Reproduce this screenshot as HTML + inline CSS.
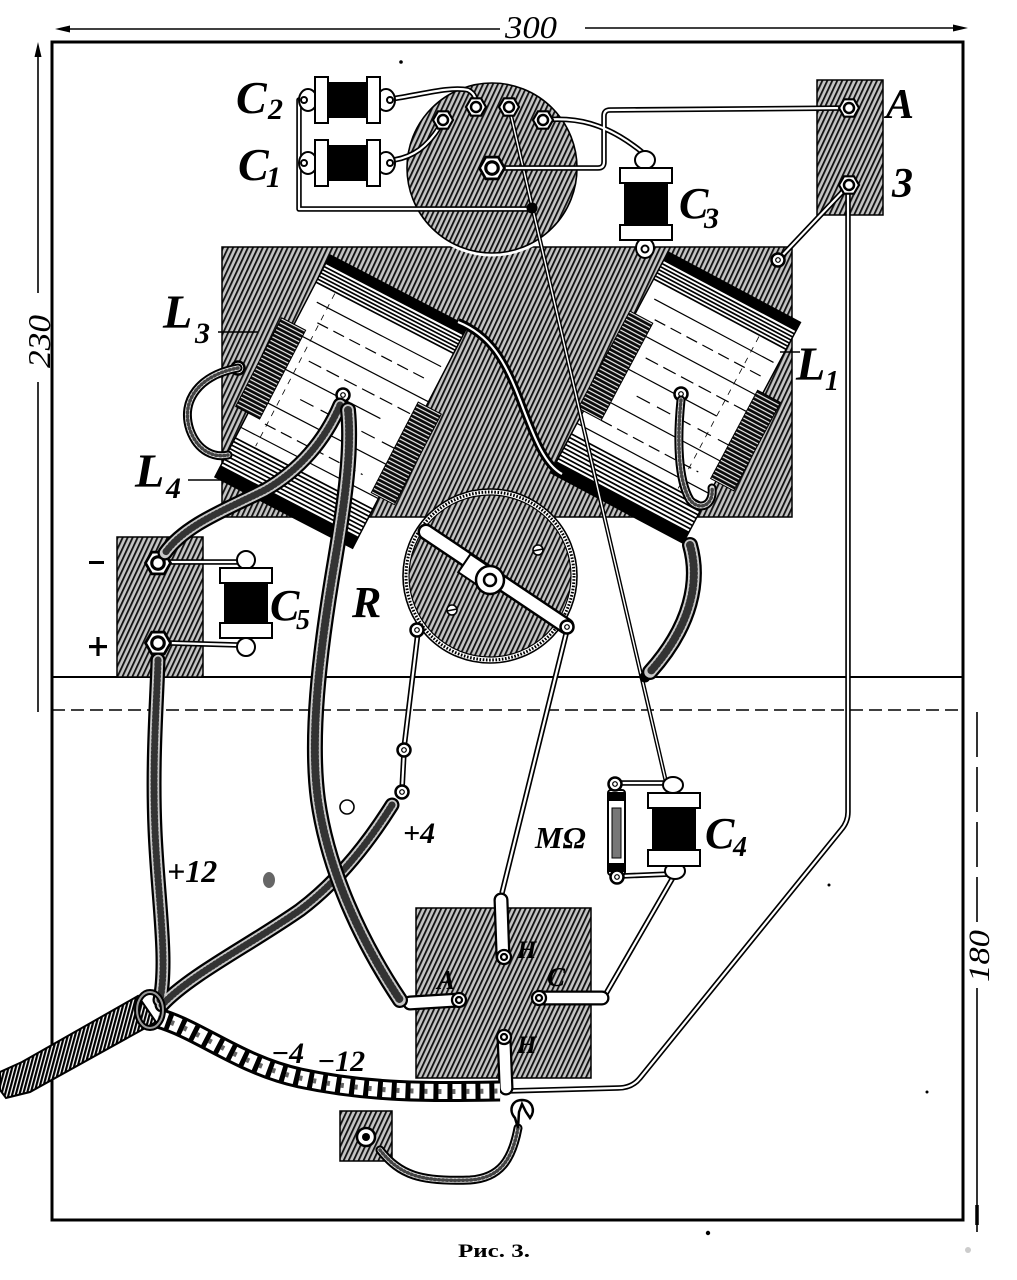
<!DOCTYPE html>
<html><head><meta charset="utf-8">
<style>
html,body{margin:0;padding:0;background:#fff;}
svg{display:block;}
text{font-family:"Liberation Serif","DejaVu Serif",serif;font-style:italic;font-weight:bold;fill:#000;}
</style></head><body>
<svg width="1017" height="1280" viewBox="0 0 1017 1280" xmlns="http://www.w3.org/2000/svg">
<defs>
 <pattern id="h" patternUnits="userSpaceOnUse" width="4.5" height="4.5" patternTransform="rotate(25)">
  <rect width="4.5" height="4.5" fill="#c4c4c4"/>
  <rect x="0" y="0" width="1.8" height="4.5" fill="#111"/>
 </pattern>
 <pattern id="st" patternUnits="userSpaceOnUse" width="20" height="4">
  <rect width="20" height="4" fill="#0a0a0a"/>
  <rect y="2.6" width="20" height="1.1" fill="#fff"/>
 </pattern>
 <pattern id="vh" patternUnits="userSpaceOnUse" width="3.5" height="4" patternTransform="rotate(15)">
  <rect width="3.5" height="4" fill="#fff"/>
  <rect width="2.2" height="4" fill="#000"/>
 </pattern>
 <g id="nut"><polygon points="10,0 5,8.7 -5,8.7 -10,0 -5,-8.7 5,-8.7" fill="#fff" stroke="#000" stroke-width="2.2"/><circle r="5" fill="#fff" stroke="#000" stroke-width="2.5"/></g>
 <g id="ring"><circle r="6.5" fill="#fff" stroke="#000" stroke-width="2.5"/><circle r="2.3" fill="#fff" stroke="#000" stroke-width="1.2"/></g>

 <path id="w1" d="M303,100 L299,100 L299,209 L531,209"/>
 <path id="w2" d="M391,99 C420,95 450,86 468,90 C476,94 476,100 476,107"/>
 <path id="w3" d="M394,160 C412,157 428,148 443,121"/>
 <path id="w4" d="M492,168 L598,168 Q604,168 604,162 L604,116 Q604,110 610,110 L848,108"/>
 <path id="w5" d="M543,120 C575,117 605,122 642,152"/>
 <path id="w6" d="M848,186 L778,260"/>
 <path id="w7" d="M848,190 L848,812 Q848,822 841,830 L640,1078 Q632,1088 618,1088 L506,1091"/>
 <path id="w9" d="M418,632 L404,748"/>
 <path id="w10" d="M404,752 L402,790"/>
 <path id="w11" d="M567,630 L502,893"/>
 <path id="w12" d="M620,783 L668,783"/>
 <path id="w13" d="M622,876 L670,874"/>
 <path id="w14" d="M675,874 L604,997"/>
 <path id="w15" d="M170,562 L238,562"/>
 <path id="w16" d="M170,643 L238,645"/>

 <path id="c1" d="M340,405 C325,440 300,470 265,490 C225,510 185,525 165,553"/>
 <path id="c2" d="M348,410 C352,450 345,500 335,560 C318,660 310,740 318,800 C328,870 360,940 400,1000"/>
 <path id="c3" d="M392,805 C370,840 340,880 300,910 C250,945 190,975 162,1005"/>
 <path id="c4" d="M158,660 C157,700 152,760 155,830 C158,900 168,960 160,1000"/>
 <path id="c5" d="M690,545 C700,580 692,625 650,672"/>
 <path id="c6" d="M681,400 C677,440 678,480 690,500 C700,512 714,505 712,488"/>
 <path id="c7" d="M238,368 C200,375 180,400 190,430 C198,452 215,458 228,455"/>
 <path id="c8" d="M380,1150 C400,1175 420,1182 470,1180 C500,1178 512,1160 518,1128"/>
 <path id="rope" d="M158,1018 C200,1030 240,1065 300,1078 C370,1093 430,1092 500,1091"/>
</defs>

<!-- frame & dimensions -->
<rect x="52" y="42" width="911" height="1178" fill="none" stroke="#000" stroke-width="3"/>
<line x1="52" y1="677" x2="963" y2="677" stroke="#000" stroke-width="2"/>
<line x1="52" y1="710" x2="963" y2="710" stroke="#000" stroke-width="1.6" stroke-dasharray="13 6"/>

<line x1="60" y1="29" x2="500" y2="29" stroke="#000" stroke-width="1.6"/>
<line x1="585" y1="28" x2="962" y2="28" stroke="#000" stroke-width="1.6"/>
<polygon points="55,29 70,25.5 70,32.5" fill="#000"/>
<polygon points="968,28 953,24.5 953,31.5" fill="#000"/>
<text x="505" y="38" font-size="32" style="font-weight:normal" textLength="52" lengthAdjust="spacingAndGlyphs">300</text>

<line x1="38" y1="50" x2="38" y2="293" stroke="#000" stroke-width="1.6"/>
<line x1="38" y1="382" x2="38" y2="712" stroke="#000" stroke-width="1.6"/>
<polygon points="38,42 34.5,57 41.5,57" fill="#000"/>
<text transform="translate(50,368) rotate(-90)" font-size="32" style="font-weight:normal" textLength="53" lengthAdjust="spacingAndGlyphs">230</text>

<line x1="977" y1="712" x2="977" y2="925" stroke="#000" stroke-width="1.6" stroke-dasharray="45 10"/>
<line x1="977" y1="988" x2="977" y2="1232" stroke="#000" stroke-width="1.6"/>
<line x1="977" y1="1205" x2="977" y2="1225" stroke="#000" stroke-width="3.5"/>
<text transform="translate(989,982) rotate(-90)" font-size="30" style="font-weight:normal" textLength="52" lengthAdjust="spacingAndGlyphs">180</text>

<text x="458" y="1257" font-size="19" style="font-style:normal;font-weight:bold" textLength="72" lengthAdjust="spacingAndGlyphs">Рис. 3.</text>
<circle cx="708" cy="1233" r="2.2" fill="#000"/>
<circle cx="968" cy="1250" r="3" fill="#ccc"/>
<circle cx="401" cy="62" r="1.8" fill="#000"/>
<circle cx="829" cy="885" r="1.5" fill="#000"/>
<circle cx="927" cy="1092" r="1.5" fill="#000"/>

<!-- plates -->
<rect x="222" y="247" width="570" height="270" fill="url(#h)" stroke="#000" stroke-width="1.5"/>
<rect x="817" y="80" width="66" height="135" fill="url(#h)" stroke="#000" stroke-width="1.5"/>
<rect x="117" y="537" width="86" height="140" fill="url(#h)" stroke="#000" stroke-width="1.5"/>
<rect x="416" y="908" width="175" height="170" fill="url(#h)" stroke="#000" stroke-width="1.5"/>
<rect x="340" y="1111" width="52" height="50" fill="url(#h)" stroke="#000" stroke-width="1.5"/>

<!-- top circle -->
<circle cx="492" cy="168" r="86" fill="#fff" stroke="#fff" stroke-width="5"/>
<circle cx="492" cy="168" r="85" fill="url(#h)" stroke="#000" stroke-width="1.6"/>

<!-- coil 1 (L3/L4) -->
<g transform="translate(330,255) rotate(27.4)">
 <rect width="155" height="250" fill="#fff" stroke="#000" stroke-width="1.5"/>
 <rect width="155" height="10" fill="#000"/>
 <g stroke="#000" stroke-width="1.7">
  <line x1="0" y1="13" x2="155" y2="13"/><line x1="0" y1="16.5" x2="155" y2="16.5"/>
  <line x1="0" y1="20" x2="155" y2="20"/><line x1="0" y1="23.5" x2="155" y2="23.5"/>
  <line x1="0" y1="27" x2="155" y2="27"/><line x1="0" y1="30.5" x2="155" y2="30.5"/>
  <line x1="0" y1="206" x2="155" y2="206"/><line x1="0" y1="210" x2="155" y2="210"/>
  <line x1="0" y1="214" x2="155" y2="214"/><line x1="0" y1="218" x2="155" y2="218"/>
  <line x1="0" y1="222" x2="155" y2="222"/><line x1="0" y1="226" x2="155" y2="226"/>
  <line x1="0" y1="230" x2="155" y2="230"/><line x1="0" y1="234" x2="155" y2="234"/>
 </g>
 <rect y="237" width="155" height="13" fill="#000"/>
 <g stroke="#000" stroke-width="1.2">
  <line x1="10" y1="48" x2="150" y2="48"/>
  <line x1="20" y1="66" x2="140" y2="66" stroke-dasharray="12 6"/>
  <line x1="0" y1="85" x2="155" y2="85"/>
  <line x1="30" y1="104" x2="155" y2="104" stroke-dasharray="14 6"/>
  <line x1="0" y1="122" x2="120" y2="122"/>
  <line x1="40" y1="142" x2="155" y2="142" stroke-dasharray="15 8"/>
  <line x1="0" y1="160" x2="150" y2="160"/>
  <line x1="20" y1="180" x2="130" y2="180" stroke-dasharray="12 6"/>
  <line x1="0" y1="194" x2="155" y2="194"/>
  <line x1="22" y1="32" x2="22" y2="204" stroke-width="0.8" stroke-dasharray="6 6"/>
 </g>
 <rect x="-14" y="78" width="27" height="100" fill="url(#st)" stroke="#000" stroke-width="1"/>
 <rect x="146" y="90" width="26" height="102" fill="url(#st)" stroke="#000" stroke-width="1"/>
</g>

<!-- coil 2 (L1) -->
<g transform="translate(668,252) rotate(28)">
 <rect width="150" height="250" fill="#fff" stroke="#000" stroke-width="1.5"/>
 <rect width="150" height="10" fill="#000"/>
 <g stroke="#000" stroke-width="1.7">
  <line x1="0" y1="13" x2="150" y2="13"/><line x1="0" y1="16.5" x2="150" y2="16.5"/>
  <line x1="0" y1="20" x2="150" y2="20"/><line x1="0" y1="23.5" x2="150" y2="23.5"/>
  <line x1="0" y1="27" x2="150" y2="27"/><line x1="0" y1="30.5" x2="150" y2="30.5"/>
  <line x1="0" y1="206" x2="150" y2="206"/><line x1="0" y1="210" x2="150" y2="210"/>
  <line x1="0" y1="214" x2="150" y2="214"/><line x1="0" y1="218" x2="150" y2="218"/>
  <line x1="0" y1="222" x2="150" y2="222"/><line x1="0" y1="226" x2="150" y2="226"/>
  <line x1="0" y1="230" x2="150" y2="230"/><line x1="0" y1="234" x2="150" y2="234"/>
 </g>
 <rect y="237" width="150" height="13" fill="#000"/>
 <g stroke="#000" stroke-width="1.2">
  <line x1="10" y1="48" x2="145" y2="48"/>
  <line x1="20" y1="66" x2="140" y2="66" stroke-dasharray="12 6"/>
  <line x1="0" y1="85" x2="150" y2="85"/>
  <line x1="30" y1="104" x2="150" y2="104" stroke-dasharray="14 6"/>
  <line x1="0" y1="122" x2="120" y2="122"/>
  <line x1="40" y1="142" x2="150" y2="142" stroke-dasharray="15 8"/>
  <line x1="0" y1="160" x2="145" y2="160"/>
  <line x1="20" y1="180" x2="130" y2="180" stroke-dasharray="12 6"/>
  <line x1="0" y1="194" x2="150" y2="194"/>
  <line x1="120" y1="32" x2="120" y2="204" stroke-width="0.8" stroke-dasharray="6 6"/>
 </g>
 <rect x="-6" y="70" width="26" height="110" fill="url(#st)" stroke="#000" stroke-width="1"/>
 <rect x="144" y="80" width="26" height="100" fill="url(#st)" stroke="#000" stroke-width="1"/>
</g>

<!-- S wire between coils -->
<path d="M458,322 C490,335 505,360 520,400 C535,440 545,465 562,474" fill="none" stroke="#000" stroke-width="8"/>
<path d="M458,322 C490,335 505,360 520,400 C535,440 545,465 562,474" fill="none" stroke="#fff" stroke-width="2.2"/>

<!-- rheostat -->
<circle cx="490" cy="576" r="87" fill="#fff" stroke="#000" stroke-width="1.6"/>
<circle cx="490" cy="576" r="84" fill="none" stroke="#000" stroke-width="3" stroke-dasharray="1.6 1.6"/>
<circle cx="490" cy="576" r="81" fill="url(#h)" stroke="#000" stroke-width="1.2"/>
<line x1="426" y1="532" x2="566" y2="626" stroke="#000" stroke-width="17" stroke-linecap="round"/>
<line x1="426" y1="532" x2="566" y2="626" stroke="#fff" stroke-width="12" stroke-linecap="round"/>
<rect x="462" y="560" width="28" height="22" fill="#fff" stroke="#000" stroke-width="2" transform="rotate(34 476 571)"/>
<circle cx="490" cy="580" r="14" fill="#fff" stroke="#000" stroke-width="2.5"/>
<circle cx="490" cy="580" r="6" fill="#fff" stroke="#000" stroke-width="2.5"/>
<g fill="#fff" stroke="#000" stroke-width="1.6">
 <circle cx="538" cy="550" r="5"/><circle cx="452" cy="610" r="5"/>
</g>
<line x1="533" y1="551" x2="543" y2="549" stroke="#000" stroke-width="1.5"/>
<line x1="447" y1="611" x2="457" y2="609" stroke="#000" stroke-width="1.5"/>

<!-- thin diagonal wire -->
<line x1="509" y1="107" x2="666" y2="782" stroke="#000" stroke-width="4.2"/>
<line x1="509" y1="107" x2="666" y2="782" stroke="#fff" stroke-width="1.4"/>

<!-- double-line wires -->
<g fill="none" stroke="#000" stroke-width="5.5" stroke-linejoin="round">
 <use href="#w1"/><use href="#w2"/><use href="#w3"/><use href="#w4"/><use href="#w5"/><use href="#w6"/><use href="#w7"/>
 <use href="#w9"/><use href="#w10"/><use href="#w11"/><use href="#w12"/><use href="#w13"/><use href="#w14"/><use href="#w15"/><use href="#w16"/>
</g>
<g fill="none" stroke="#fff" stroke-width="2.2" stroke-linejoin="round">
 <use href="#w1"/><use href="#w2"/><use href="#w3"/><use href="#w4"/><use href="#w5"/><use href="#w6"/><use href="#w7"/>
 <use href="#w9"/><use href="#w10"/><use href="#w11"/><use href="#w12"/><use href="#w13"/><use href="#w14"/><use href="#w15"/><use href="#w16"/>
</g>
<circle cx="532" cy="208" r="5.5" fill="#000"/>
<circle cx="645" cy="677" r="5.5" fill="#000"/>

<!-- nuts -->
<use href="#nut" x="443" y="120"/>
<use href="#nut" x="476" y="107"/>
<use href="#nut" x="509" y="107"/>
<use href="#nut" x="543" y="120"/>
<g transform="translate(492,168) scale(1.25)"><use href="#nut"/></g>
<use href="#nut" x="849" y="108"/>
<use href="#nut" x="849" y="185"/>
<g transform="translate(158,563) scale(1.25)"><use href="#nut"/></g>
<g transform="translate(158,643) scale(1.25)"><use href="#nut"/></g>
<use href="#ring" x="778" y="260"/>
<use href="#ring" x="238" y="368"/>
<use href="#ring" x="343" y="395"/>
<use href="#ring" x="681" y="394"/>
<use href="#ring" x="417" y="630"/>
<use href="#ring" x="567" y="627"/>
<use href="#ring" x="404" y="750"/>
<use href="#ring" x="402" y="792"/>

<!-- C2, C1 -->
<g fill="#fff" stroke="#000" stroke-width="2">
 <ellipse cx="308" cy="100" rx="9" ry="11"/><ellipse cx="386" cy="100" rx="9" ry="11"/>
 <ellipse cx="308" cy="163" rx="9" ry="11"/><ellipse cx="386" cy="163" rx="9" ry="11"/>
 <circle cx="304" cy="100" r="3"/><circle cx="390" cy="100" r="3"/>
 <circle cx="304" cy="163" r="3"/><circle cx="390" cy="163" r="3"/>
</g>
<rect x="327" y="82" width="41" height="36" fill="#000"/>
<rect x="327" y="145" width="41" height="36" fill="#000"/>
<g fill="#fff" stroke="#000" stroke-width="2">
 <rect x="315" y="77" width="13" height="46"/><rect x="367" y="77" width="13" height="46"/>
 <rect x="315" y="140" width="13" height="46"/><rect x="367" y="140" width="13" height="46"/>
</g>

<!-- C3 -->
<g fill="#fff" stroke="#000" stroke-width="2">
 <ellipse cx="645" cy="160" rx="10" ry="9"/><ellipse cx="645" cy="248" rx="9" ry="10"/>
 <circle cx="645" cy="249" r="3.5"/>
</g>
<rect x="624" y="183" width="44" height="42" fill="#000"/>
<g fill="#fff" stroke="#000" stroke-width="2">
 <rect x="620" y="168" width="52" height="15"/><rect x="620" y="225" width="52" height="15"/>
</g>

<!-- C5 -->
<g fill="#fff" stroke="#000" stroke-width="2">
 <ellipse cx="246" cy="560" rx="9" ry="9"/><ellipse cx="246" cy="647" rx="9" ry="9"/>
</g>
<rect x="224" y="583" width="44" height="40" fill="#000"/>
<g fill="#fff" stroke="#000" stroke-width="2">
 <rect x="220" y="568" width="52" height="15"/><rect x="220" y="623" width="52" height="15"/>
</g>

<!-- C4 and MΩ -->
<g fill="#fff" stroke="#000" stroke-width="2">
 <ellipse cx="673" cy="785" rx="10" ry="8"/><ellipse cx="675" cy="871" rx="10" ry="8"/>
</g>
<rect x="652" y="808" width="44" height="42" fill="#000"/>
<g fill="#fff" stroke="#000" stroke-width="2">
 <rect x="648" y="793" width="52" height="15"/><rect x="648" y="850" width="52" height="16"/>
</g>
<rect x="608" y="790" width="17" height="85" rx="3" fill="#fff" stroke="#000" stroke-width="2"/>
<rect x="612" y="808" width="9" height="50" fill="#777" stroke="#000" stroke-width="1"/>
<rect x="609" y="792" width="15" height="9" fill="#000"/>
<rect x="609" y="863" width="15" height="9" fill="#000"/>
<use href="#ring" x="615" y="784"/>
<use href="#ring" x="617" y="877"/>

<!-- socket tabs -->
<g stroke-linecap="round" fill="none">
 <line x1="503" y1="957" x2="501" y2="900" stroke="#000" stroke-width="15"/>
 <line x1="459" y1="1000" x2="410" y2="1003" stroke="#000" stroke-width="15"/>
 <line x1="539" y1="998" x2="602" y2="998" stroke="#000" stroke-width="15"/>
 <line x1="504" y1="1037" x2="506" y2="1088" stroke="#000" stroke-width="15"/>
 <line x1="503" y1="957" x2="501" y2="900" stroke="#fff" stroke-width="10.5"/>
 <line x1="459" y1="1000" x2="410" y2="1003" stroke="#fff" stroke-width="10.5"/>
 <line x1="539" y1="998" x2="602" y2="998" stroke="#fff" stroke-width="10.5"/>
 <line x1="504" y1="1037" x2="506" y2="1088" stroke="#fff" stroke-width="10.5"/>
</g>
<g fill="#fff" stroke="#000" stroke-width="2.3">
 <circle cx="504" cy="957" r="7"/><circle cx="459" cy="1000" r="7"/><circle cx="539" cy="998" r="7"/><circle cx="504" cy="1037" r="7"/>
 <circle cx="504" cy="957" r="3"/><circle cx="459" cy="1000" r="3"/><circle cx="539" cy="998" r="3"/><circle cx="504" cy="1037" r="3"/>
</g>

<!-- cables -->
<g fill="none" stroke-linecap="round">
 <g stroke="#000" stroke-width="15"><use href="#c3"/><use href="#c4"/><use href="#c1"/></g>
 <g stroke="#c8c8c8" stroke-width="10.5"><use href="#c3"/><use href="#c4"/><use href="#c1"/></g>
 <g stroke="#333" stroke-width="7" stroke-dasharray="1 3"><use href="#c3"/><use href="#c4"/><use href="#c1"/></g>
 <g stroke="#000" stroke-width="16"><use href="#c2"/><use href="#c5"/></g>
 <g stroke="#c8c8c8" stroke-width="11.5"><use href="#c2"/><use href="#c5"/></g>
 <g stroke="#333" stroke-width="8" stroke-dasharray="1 3"><use href="#c2"/><use href="#c5"/></g>
 <g stroke="#000" stroke-width="9"><use href="#c6"/><use href="#c7"/><use href="#c8"/></g>
 <g stroke="#ddd" stroke-width="5"><use href="#c6"/><use href="#c7"/><use href="#c8"/></g>
 <g stroke="#444" stroke-width="3.5" stroke-dasharray="1 3"><use href="#c6"/><use href="#c7"/><use href="#c8"/></g>
</g>

<!-- frayed end, knot and rope -->
<polygon points="138,996 156,1022 30,1092 6,1098 0,1090 0,1072 22,1062" fill="url(#vh)" stroke="#000" stroke-width="2"/>
<g fill="none" stroke-linecap="butt">
 <use href="#rope" stroke="#000" stroke-width="21"/>
 <use href="#rope" stroke="#fff" stroke-width="15" stroke-dasharray="9 5"/>
 <use href="#rope" stroke="#666" stroke-width="5" stroke-dasharray="3 11"/>
</g>
<ellipse cx="150" cy="1010" rx="13" ry="18" fill="none" stroke="#000" stroke-width="6"/>
<ellipse cx="150" cy="1010" rx="13" ry="18" fill="none" stroke="#999" stroke-width="2"/>

<!-- ground plate terminal & spade -->
<circle cx="366" cy="1137" r="9" fill="#fff" stroke="#000" stroke-width="2.5"/>
<circle cx="366" cy="1137" r="4" fill="#000"/>
<path d="M518,1128 L515,1118 C508,1110 512,1100 522,1100 C532,1100 536,1110 530,1118 L526,1112 L522,1104 L519,1112 Z" fill="#fff" stroke="#000" stroke-width="2.5"/>

<!-- misc marks -->
<circle cx="347" cy="807" r="7" fill="#fff" stroke="#000" stroke-width="1.6"/>
<ellipse cx="269" cy="880" rx="6" ry="8" fill="#666"/>

<!-- labels -->
<text x="236" y="113" font-size="46">C</text><text x="268" y="119" font-size="30">2</text>
<text x="238" y="180" font-size="46">C</text><text x="266" y="187" font-size="30">1</text>
<text x="679" y="218" font-size="44">C</text><text x="704" y="228" font-size="30">3</text>
<text x="886" y="118" font-size="42">A</text>
<text x="892" y="197" font-size="42">3</text>
<text x="163" y="328" font-size="48">L</text><text x="195" y="343" font-size="30">3</text>
<line x1="218" y1="332" x2="258" y2="332" stroke="#000" stroke-width="1.5"/>
<text x="135" y="487" font-size="48">L</text><text x="166" y="498" font-size="30">4</text>
<line x1="188" y1="480" x2="224" y2="480" stroke="#000" stroke-width="1.5"/>
<text x="796" y="380" font-size="48">L</text><text x="825" y="390" font-size="28">1</text>
<line x1="780" y1="352" x2="800" y2="352" stroke="#000" stroke-width="1.5"/>
<text x="352" y="617" font-size="44">R</text>
<text x="270" y="620" font-size="44">C</text><text x="296" y="629" font-size="28">5</text>
<rect x="89" y="561" width="15" height="3" fill="#000"/>
<rect x="89" y="645" width="18" height="3.2" fill="#000"/>
<rect x="96.4" y="637" width="3.2" height="19" fill="#000"/>
<text x="403" y="843" font-size="30">+4</text>
<text x="167" y="882" font-size="32">+12</text>
<text x="535" y="848" font-size="31">MΩ</text>
<text x="705" y="848" font-size="44">C</text><text x="733" y="856" font-size="28">4</text>
<text x="271" y="1063" font-size="30">−4</text>
<text x="317" y="1071" font-size="30">−12</text>
<text x="517" y="958" font-size="25">H</text>
<text x="437" y="989" font-size="27">A</text>
<text x="547" y="986" font-size="27">C</text>
<text x="517" y="1053" font-size="25">H</text>
</svg>
</body></html>
